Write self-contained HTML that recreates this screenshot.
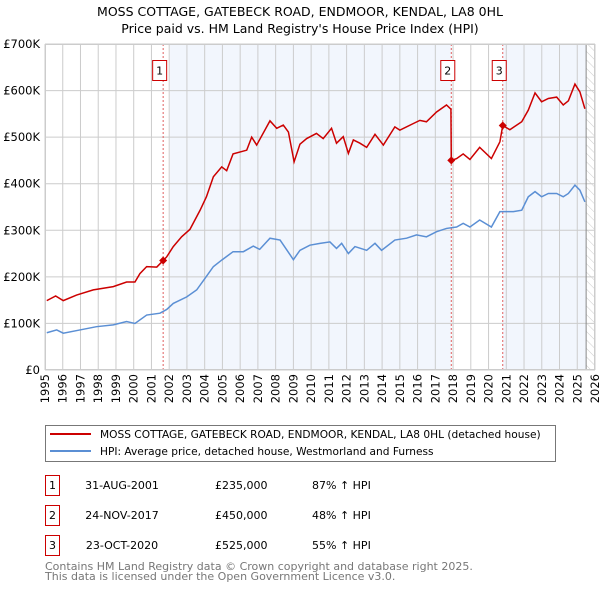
<!DOCTYPE html>
<html><head><meta charset="utf-8"><style>
body{margin:0;background:#fff;font-family:"DejaVu Sans","Liberation Sans",sans-serif;}
svg text{font-family:"DejaVu Sans","Liberation Sans",sans-serif;}
</style></head><body>
<svg id="c" width="600" height="590" xmlns="http://www.w3.org/2000/svg">
<defs><pattern id="hatch" width="6" height="6" patternUnits="userSpaceOnUse" patternTransform="rotate(-45)"><line x1="0" y1="0" x2="0" y2="6" stroke="#ccc" stroke-width="1"/></pattern></defs>
<text x="300" y="16" text-anchor="middle" font-size="12.5" fill="#000">MOSS COTTAGE, GATEBECK ROAD, ENDMOOR, KENDAL, LA8 0HL</text>
<text x="300" y="33" text-anchor="middle" font-size="12.5" fill="#000">Price paid vs. HM Land Registry's House Price Index (HPI)</text>
<g id="plot"></g>
<g>
<rect x="45.5" y="425.5" width="510" height="36" fill="#fff" stroke="#777"/>
<line x1="50" y1="434" x2="91" y2="434" stroke="#cc0000" stroke-width="2"/>
<text x="100" y="438" font-size="10.6">MOSS COTTAGE, GATEBECK ROAD, ENDMOOR, KENDAL, LA8 0HL (detached house)</text>
<line x1="50" y1="451" x2="91" y2="451" stroke="#5b8fd4" stroke-width="2"/>
<text x="100" y="455" font-size="10.6">HPI: Average price, detached house, Westmorland and Furness</text>
</g>
<g id="table" font-size="11"></g>
<text x="45" y="570" font-size="11" fill="#777">Contains HM Land Registry data © Crown copyright and database right 2025.</text>
<text x="45" y="580" font-size="11" fill="#777">This data is licensed under the Open Government Licence v3.0.</text>
</svg>
<script>
const yTicks=[0,100,200,300,400,500,600,700];
const yTickLabels=["£0","£100K","£200K","£300K","£400K","£500K","£600K","£700K"];
const xYears=[1995,1996,1997,1998,1999,2000,2001,2002,2003,2004,2005,2006,2007,2008,2009,2010,2011,2012,2013,2014,2015,2016,2017,2018,2019,2020,2021,2022,2023,2024,2025,2026];
const hpiYears=[1995.1,1995.66,1996.03,1996.97,1997.9,1998.85,1999.6,2000.07,2000.73,2001.48,2001.86,2002.23,2002.99,2003.55,2004.02,2004.49,2004.96,2005.6,2006.18,2006.74,2007.1,2007.68,2008.25,2009.0,2009.37,2009.93,2010.5,2011.06,2011.43,2011.72,2012.1,2012.47,2013.13,2013.6,2013.97,2014.72,2015.38,2015.94,2016.5,2017.07,2017.63,2018.2,2018.57,2018.95,2019.5,2020.16,2020.64,2021.4,2021.87,2022.24,2022.62,2022.99,2023.37,2023.84,2024.21,2024.5,2024.87,2025.15,2025.43];
const hpiValues=[80,86,79,86,93,97,104,100,118,122,130,143,157,172,197,222,236,254,254,266,259,283,279,237,257,268,272,275,261,272,250,265,257,272,257,279,283,290,286,297,304,307,315,307,322,307,340,340,343,372,383,372,379,379,372,379,397,386,361];
const priceYears=[1995.1,1995.6,1996.03,1996.78,1997.72,1998.85,1999.6,2000.07,2000.35,2000.73,2001.3,2001.66,2001.86,2002.23,2002.7,2003.17,2003.74,2004.1,2004.49,2004.96,2005.24,2005.6,2006.37,2006.65,2006.93,2007.68,2008.06,2008.43,2008.72,2009.04,2009.37,2009.75,2010.3,2010.68,2011.15,2011.43,2011.81,2012.1,2012.38,2012.75,2013.13,2013.6,2014.07,2014.72,2015.0,2015.75,2016.13,2016.5,2017.07,2017.63,2017.88,2017.9,2018.2,2018.57,2018.95,2019.5,2020.16,2020.64,2020.8,2021.2,2021.87,2022.24,2022.62,2022.99,2023.37,2023.84,2024.21,2024.5,2024.87,2025.15,2025.43];
const priceValues=[149,159,149,161,172,179,189,189,207,222,221,235,243,265,286,302,343,372,415,436,428,464,472,500,483,535,519,526,511,447,485,497,508,497,519,487,501,465,494,487,478,506,483,522,515,529,536,533,554,569,560,450,454,464,452,478,454,490,525,516,533,558,595,576,583,586,569,578,614,597,561];
const saleYears=[2001.66,2017.9,2020.8];
const saleValues=[235,450,525];
const saleLabels=["1","2","3"];
const saleDates=["31-AUG-2001","24-NOV-2017","23-OCT-2020"];
const salePrices=["£235,000","£450,000","£525,000"];
const saleHpi=["87% ↑ HPI","48% ↑ HPI","55% ↑ HPI"];

const NS="http://www.w3.org/2000/svg";
const X0=45,X1=595,Y0=370,Y1=44;
const xs=y=>X0+(y-1995)/(2026-1995)*(X1-X0);
const ys=v=>Y0-v/700*(Y0-Y1);
const plot=document.getElementById('plot');
function mk(tag,attrs,parent){const e=document.createElementNS(NS,tag);for(const k in attrs)e.setAttribute(k,attrs[k]);(parent||plot).appendChild(e);return e;}

let bg=mk('rect',{x:X0,y:Y1,width:X1-X0,height:Y0-Y1,fill:'#fff'});


let s1=mk('rect',{x:xs(2002.05),y:Y1,width:xs(saleYears[1])-xs(2002.05),height:Y0-Y1,fill:'#eef3fc',opacity:0.75});


let s2=mk('rect',{x:xs(saleYears[2]),y:Y1,width:xs(2025.5)-xs(saleYears[2]),height:Y0-Y1,fill:'#eef3fc',opacity:0.75});


let h=mk('rect',{x:xs(2025.5),y:Y1,width:X1-xs(2025.5),height:Y0-Y1,fill:'url(#hatch)'});



xYears.forEach(yr=>{
  const x=xs(yr);
  let g=mk('line',{x1:x,y1:Y1,x2:x,y2:Y0,stroke:'#ccc','stroke-width':1});
  
  
  let t=mk('text',{x:0,y:0,'font-size':11.5,'text-anchor':'end',transform:`translate(${x+4},374) rotate(-90)`});
  t.textContent=yr;
  
  
});
yTicks.forEach((v,i)=>{
  const y=ys(v);
  let g=mk('line',{x1:X0,y1:y,x2:X1,y2:y,stroke:'#ccc','stroke-width':1});
  
  
  let t=mk('text',{x:40,y:y+4,'font-size':11.5,'text-anchor':'end'});
  t.textContent=yTickLabels[i];
  
  
});
let nowl=mk('line',{x1:xs(2025.5),y1:Y1,x2:xs(2025.5),y2:Y0,stroke:'#888','stroke-width':1});



saleYears.forEach((yr,i)=>{
  const x=xs(yr);
  let l=mk('line',{x1:x,y1:Y1,x2:x,y2:Y0,stroke:'#e06060','stroke-width':1,'stroke-dasharray':'2,2'});
  
  
});

let hp=mk('polyline',{points:hpiYears.map((y,i)=>xs(y)+','+ys(hpiValues[i])).join(' '),fill:'none',stroke:'#5b8fd4','stroke-width':1.5});


let pp=mk('polyline',{points:priceYears.map((y,i)=>xs(y)+','+ys(priceValues[i])).join(' '),fill:'none',stroke:'#cc0000','stroke-width':1.5});



saleYears.forEach((yr,i)=>{
  const x=xs(yr),y=ys(saleValues[i]);
  let d=mk('path',{d:`M${x-4},${y} L${x},${y-4} L${x+4},${y} L${x},${y+4} Z`,fill:'#cc0000'});
  
  
  let b=mk('rect',{x:x-10.5,y:60.5,width:14,height:20,fill:'#fff',stroke:'#cc0000'});
  
  
  let t=mk('text',{x:x-3.5,y:74.5,'font-size':11,'text-anchor':'middle'});
  t.textContent=saleLabels[i];
  
  
});
let frame=mk('rect',{x:X0+0.5,y:Y1+0.5,width:X1-X0-1,height:Y0-Y1-1,fill:'none',stroke:'#ccc'});



const tbl=document.getElementById('table');
saleLabels.forEach((lab,i)=>{
  const y=475+i*30;
  let b=mk('rect',{x:45.5,y:y+0.5,width:14,height:20,fill:'#fff',stroke:'#cc0000'},tbl);
  
  
  const cells=[[52.5,lab,'middle'],[122,saleDates[i],'middle'],[215,salePrices[i],'start'],[312,saleHpi[i],'start']];
  cells.forEach(c=>{
    let t=mk('text',{x:c[0],y:y+14,'text-anchor':c[2]},tbl);
    t.textContent=c[1];
    
    
  });
});
</script>
</body></html>
